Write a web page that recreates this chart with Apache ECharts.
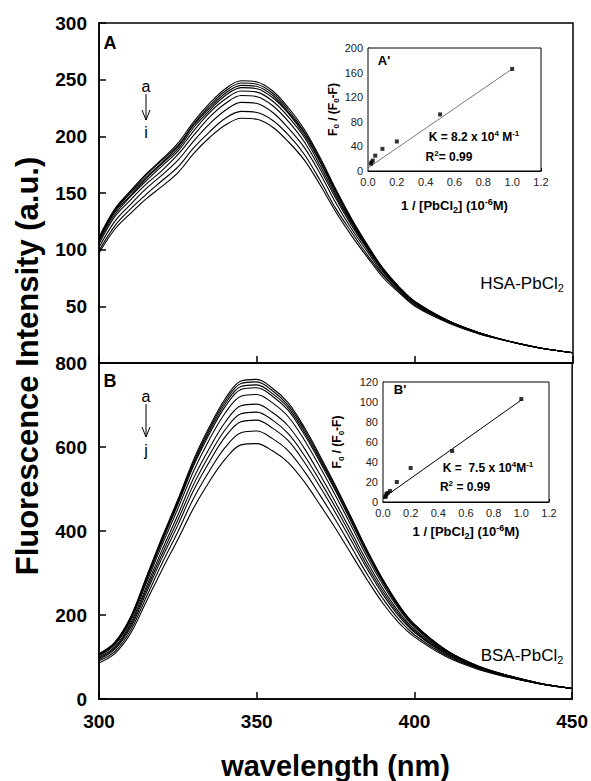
<!DOCTYPE html>
<html><head><meta charset="utf-8">
<script src="https://cdn.jsdelivr.net/npm/echarts/dist/echarts.min.js"></script>
<style>html,body{margin:0;padding:0;background:#fff}#chart{width:591px;height:781px}</style>
</head><body><div id="chart"></div>
<script>
// ---- data ----
const wavelength = [300,305,310,315,320,325,330,335,340,345,350,355,360,365,370,375,380,385,390,395,400,410,420,430,440,450];
// HSA-PbCl2 spectra a..i
const hsaA = [111,136,152,167,180,194,213,229,242,249,248,240,225,206,181,153,127,104,83,67,54,38,27,19,13,9];
const hsaB = [110,135,151,166,179,192,211,227,240,247,246,238,223,204,180,152,126,103,83,67,54,38,27,19,13,9];
const hsaC = [109,134,150,164,177,191,210,225,238,245,244,236,221,203,178,151,125,103,82,66,54,38,27,19,13,9];
const hsaD = [108,133,148,163,176,189,208,223,236,243,242,234,220,201,177,149,124,102,82,66,53,38,27,19,13,9];
const hsaE = [107,131,147,161,174,187,205,221,233,240,239,231,217,199,174,147,123,101,81,66,53,37,27,19,13,9];
const hsaF = [105,129,144,158,170,184,201,217,229,236,235,227,213,195,171,145,121,100,80,65,53,37,27,19,13,9];
const hsaG = [102,125,140,154,166,179,196,211,223,230,229,221,207,190,167,141,118,98,78,64,52,37,26,19,13,9];
const hsaH = [99,121,136,149,161,173,190,204,216,222,221,214,201,184,161,136,115,95,77,63,51,37,26,19,13,9];
const hsaI = [97,118,132,145,156,168,185,199,210,216,215,208,195,179,157,133,112,93,75,62,50,36,26,19,13,9];
// BSA-PbCl2 spectra a..j
const bsaA = [108,135,195,290,385,475,570,648,715,757,761,740,705,648,580,508,432,355,285,225,178,117,79,55,37,25];
const bsaB = [107,134,193,288,382,471,565,643,709,751,755,734,699,643,575,504,429,352,283,223,177,116,79,55,37,25];
const bsaC = [106,133,192,285,378,467,560,637,703,744,748,727,693,637,570,499,425,349,280,221,175,116,78,55,37,25];
const bsaD = [105,131,190,282,375,463,555,631,696,737,741,721,687,631,565,495,421,346,278,219,174,115,78,55,37,25];
const bsaE = [103,129,186,276,367,453,543,618,681,721,725,705,672,618,553,484,412,338,272,215,171,113,77,54,37,25];
const bsaF = [100,124,180,267,355,438,526,597,659,698,702,682,650,598,535,468,398,327,263,208,166,111,76,53,36,25];
const bsaG = [97,121,175,260,345,426,511,581,641,679,683,664,632,581,520,456,388,318,256,203,162,109,75,53,36,25];
const bsaH = [94,118,170,253,336,414,497,565,624,660,664,645,615,565,506,443,377,310,249,198,159,107,74,52,36,25];
const bsaI = [91,113,163,243,323,398,478,543,599,634,638,620,591,543,486,426,362,297,239,190,153,104,73,52,36,25];
const bsaJ = [86,108,156,232,308,380,455,518,571,605,608,591,563,518,463,406,345,284,228,182,148,101,71,51,36,25];
// Insets (double reciprocal plots)
const hsaInvConc = [0.02,0.025,0.033,0.05,0.1,0.2,0.5,1.0];
const hsaRatio   = [12,14,17,25,36,48,92,166];
const hsaFitX = [0,1.0];
const hsaFitY = [5,166];
const bsaInvConc = [0.0167,0.02,0.025,0.033,0.05,0.1,0.2,0.5,1.0];
const bsaRatio   = [5,6,8,9,11,20,34,51,103];
const bsaFitX = [0,1.0];
const bsaFitY = [4,102];
// axis ranges / ticks
const wlTicks = [300,450,50];
const hsaYTicks = [0,300,50];
const bsaYTicks = [0,800,200];
const insetXTicks = [0,1.2,0.2];
const insetAYTicks = [0,200,40];
const insetBYTicks = [0,120,20];

// ---- chart ----
const FF = 'Liberation Sans, Arial, sans-serif';
const chart = echarts.init(document.getElementById('chart'), null, {renderer:'svg'});
const pairs = (xs, ys) => xs.map((x,i)=>[x, ys[i]]);
const hsaCurves = [hsaA,hsaB,hsaC,hsaD,hsaE,hsaF,hsaG,hsaH,hsaI];
const bsaCurves = [bsaA,bsaB,bsaC,bsaD,bsaE,bsaF,bsaG,bsaH,bsaI,bsaJ];

const series = [];
hsaCurves.forEach(c => series.push({type:'line', xAxisIndex:0, yAxisIndex:0, data:pairs(wavelength,c), smooth:0.35, symbol:'none', lineStyle:{color:'#000', width:1.1}, z:3}));
bsaCurves.forEach(c => series.push({type:'line', xAxisIndex:1, yAxisIndex:1, data:pairs(wavelength,c), smooth:0.35, symbol:'none', lineStyle:{color:'#000', width:1.1}, z:3}));
series.push({type:'line', xAxisIndex:2, yAxisIndex:2, data:pairs(hsaFitX,hsaFitY), symbol:'none', lineStyle:{color:'#555', width:0.8}, z:5});
series.push({type:'scatter', xAxisIndex:2, yAxisIndex:2, data:pairs(hsaInvConc,hsaRatio), symbol:'rect', symbolSize:4, itemStyle:{color:'#000'}, z:6});
series.push({type:'line', xAxisIndex:3, yAxisIndex:3, data:pairs(bsaFitX,bsaFitY), symbol:'none', lineStyle:{color:'#000', width:1}, z:5});
series.push({type:'scatter', xAxisIndex:3, yAxisIndex:3, data:pairs(bsaInvConc,bsaRatio), symbol:'rect', symbolSize:4, itemStyle:{color:'#000'}, z:6});

const mainLabel = {fontFamily:FF, fontWeight:'bold', fontSize:19, color:'#000'};
const mainLine = {show:true, lineStyle:{color:'#000', width:1.5}};
const mainTick = {show:true, inside:true, length:7, lineStyle:{color:'#000', width:1.5}};
const inLabel = {fontFamily:FF, fontSize:11, color:'#222', margin:5};
const inLine = {show:true, lineStyle:{color:'#000', width:1}};
const inTick = {show:true, inside:true, length:3, lineStyle:{color:'#000', width:1}};
const richInset = {
  b:{fontFamily:FF, fontWeight:'bold', fontSize:12, color:'#000', lineHeight:16},
  s:{fontFamily:FF, fontWeight:'bold', fontSize:8, color:'#000', lineHeight:8, verticalAlign:'bottom'},
  p:{fontFamily:FF, fontWeight:'bold', fontSize:8, color:'#000', lineHeight:8, verticalAlign:'top'}
};
const richName = {
  b:{fontFamily:FF, fontWeight:'bold', fontSize:13, color:'#000', lineHeight:17},
  s:{fontFamily:FF, fontWeight:'bold', fontSize:9, color:'#000', lineHeight:9, verticalAlign:'bottom'},
  p:{fontFamily:FF, fontWeight:'bold', fontSize:9, color:'#000', lineHeight:9, verticalAlign:'top'}
};

const option = {
  backgroundColor:'#fff',
  animation:false,
  grid:[
    {left:99, top:23, width:474, height:340, show:true, borderColor:'#000', borderWidth:1.5},
    {left:99, top:363, width:474, height:340, show:true, borderColor:'#000', borderWidth:1.5},
    {left:368, top:48, width:173, height:123, show:true, borderColor:'#000', borderWidth:1, backgroundColor:'#fff', z:4},
    {left:383, top:382, width:166, height:120, show:true, borderColor:'#000', borderWidth:1, backgroundColor:'#fff', z:4}
  ],
  xAxis:[
    {gridIndex:0, type:'value', min:wlTicks[0], max:wlTicks[1], interval:wlTicks[2], axisLine:mainLine, axisTick:mainTick, axisLabel:{show:false}, splitLine:{show:false}},
    {gridIndex:1, type:'value', min:wlTicks[0], max:wlTicks[1], interval:wlTicks[2], axisLine:mainLine, axisTick:mainTick, axisLabel:Object.assign({margin:13}, mainLabel), splitLine:{show:false},
     name:'wavelength (nm)', nameLocation:'middle', nameGap:52, nameTextStyle:{fontFamily:FF, fontWeight:'bold', fontSize:29, color:'#000'}},
    {gridIndex:2, type:'value', min:insetXTicks[0], max:insetXTicks[1], interval:insetXTicks[2], axisLine:inLine, axisTick:inTick, axisLabel:Object.assign({formatter:v=>v.toFixed(1)}, inLabel), splitLine:{show:false},
     name:'{b|1 / [PbCl}{s|2}{b|] (10}{p|-6}{b|M)}', nameLocation:'middle', nameGap:26, nameTextStyle:{rich:richName}},
    {gridIndex:3, type:'value', min:insetXTicks[0], max:insetXTicks[1], interval:insetXTicks[2], axisLine:inLine, axisTick:inTick, axisLabel:Object.assign({formatter:v=>v.toFixed(1)}, inLabel), splitLine:{show:false},
     name:'{b|1 / [PbCl}{s|2}{b|] (10}{p|-6}{b|M)}', nameLocation:'middle', nameGap:21, nameTextStyle:{rich:richName}}
  ],
  yAxis:[
    {gridIndex:0, type:'value', min:hsaYTicks[0], max:hsaYTicks[1], interval:hsaYTicks[2], axisLine:mainLine, axisTick:mainTick, axisLabel:Object.assign({margin:12, formatter:v=>v===0?'':String(v)}, mainLabel), splitLine:{show:false}},
    {gridIndex:1, type:'value', min:bsaYTicks[0], max:bsaYTicks[1], interval:bsaYTicks[2], axisLine:mainLine, axisTick:mainTick, axisLabel:Object.assign({margin:12}, mainLabel), splitLine:{show:false}},
    {gridIndex:2, type:'value', min:insetAYTicks[0], max:insetAYTicks[1], interval:insetAYTicks[2], axisLine:inLine, axisTick:inTick, axisLabel:inLabel, splitLine:{show:false},
     name:'{b|F}{s|0}{b| / (F}{s|0}{b|-F)}', nameLocation:'middle', nameRotate:90, nameGap:26, nameTextStyle:{rich:richInset}},
    {gridIndex:3, type:'value', min:insetBYTicks[0], max:insetBYTicks[1], interval:insetBYTicks[2], axisLine:inLine, axisTick:inTick, axisLabel:inLabel, splitLine:{show:false},
     name:'{b|F}{s|0}{b| / (F}{s|0}{b|-F)}', nameLocation:'middle', nameRotate:90, nameGap:38, nameTextStyle:{rich:richInset}}
  ],
  series: series,
  graphic:[
    {type:'text', x:27, y:366, rotation:Math.PI/2, style:{text:'Fluorescence Intensity (a.u.)', fontFamily:FF, fontWeight:'bold', fontSize:31, fill:'#000', align:'center', verticalAlign:'middle'}},
    {type:'text', x:110, y:43, style:{text:'A', fontFamily:FF, fontWeight:'bold', fontSize:18, fill:'#000', align:'center', verticalAlign:'middle'}},
    {type:'text', x:110, y:381, style:{text:'B', fontFamily:FF, fontWeight:'bold', fontSize:18, fill:'#000', align:'center', verticalAlign:'middle'}},
    // a -> i arrow (HSA)
    {type:'text', x:146, y:86, style:{text:'a', fontFamily:FF, fontSize:16, fill:'#000', align:'center', verticalAlign:'middle'}},
    {type:'line', shape:{x1:146, y1:94, x2:146, y2:120}, style:{stroke:'#000', lineWidth:1}},
    {type:'polyline', shape:{points:[[142,110],[146,120],[150,110]]}, style:{stroke:'#000', lineWidth:1, fill:null}},
    {type:'text', x:146, y:132, style:{text:'i', fontFamily:FF, fontSize:16, fill:'#000', align:'center', verticalAlign:'middle'}},
    // a -> j arrow (BSA)
    {type:'text', x:146, y:396, style:{text:'a', fontFamily:FF, fontSize:16, fill:'#000', align:'center', verticalAlign:'middle'}},
    {type:'line', shape:{x1:146, y1:404, x2:146, y2:437}, style:{stroke:'#000', lineWidth:1}},
    {type:'polyline', shape:{points:[[142,427],[146,437],[150,427]]}, style:{stroke:'#000', lineWidth:1, fill:null}},
    {type:'text', x:146, y:450, style:{text:'j', fontFamily:FF, fontSize:16, fill:'#000', align:'center', verticalAlign:'middle'}},
    // sample labels
    {type:'text', x:522, y:283, style:{text:'{n|HSA-PbCl}{s|2}', align:'center', verticalAlign:'middle', rich:{n:{fontFamily:FF, fontSize:17, fill:'#000', lineHeight:20}, s:{fontFamily:FF, fontSize:11, fill:'#000', lineHeight:11, verticalAlign:'bottom'}}}},
    {type:'text', x:522, y:655, style:{text:'{n|BSA-PbCl}{s|2}', align:'center', verticalAlign:'middle', rich:{n:{fontFamily:FF, fontSize:17, fill:'#000', lineHeight:20}, s:{fontFamily:FF, fontSize:11, fill:'#000', lineHeight:11, verticalAlign:'bottom'}}}},
    // inset annotations
    {type:'text', x:384, y:60, z:10, style:{text:"A'", fontFamily:FF, fontWeight:'bold', fontSize:13, fill:'#000', align:'center', verticalAlign:'middle'}},
    {type:'text', x:474, y:137, z:10, style:{text:'{b|K = 8.2 x 10}{p|4}{b| M}{p|-1}', align:'center', verticalAlign:'middle', rich:richInset}},
    {type:'text', x:449, y:157, z:10, style:{text:'{b|R}{p|2}{b|= 0.99}', align:'center', verticalAlign:'middle', rich:richInset}},
    {type:'text', x:400, y:389, z:10, style:{text:"B'", fontFamily:FF, fontWeight:'bold', fontSize:13, fill:'#000', align:'center', verticalAlign:'middle'}},
    {type:'text', x:488, y:468, z:10, style:{text:'{b|K =  7.5 x 10}{p|4}{b|M}{p|-1}', align:'center', verticalAlign:'middle', rich:richInset}},
    {type:'text', x:465, y:487, z:10, style:{text:'{b|R}{p|2}{b| = 0.99}', align:'center', verticalAlign:'middle', rich:richInset}}
  ]
};
chart.setOption(option);
</script>
</body></html>
